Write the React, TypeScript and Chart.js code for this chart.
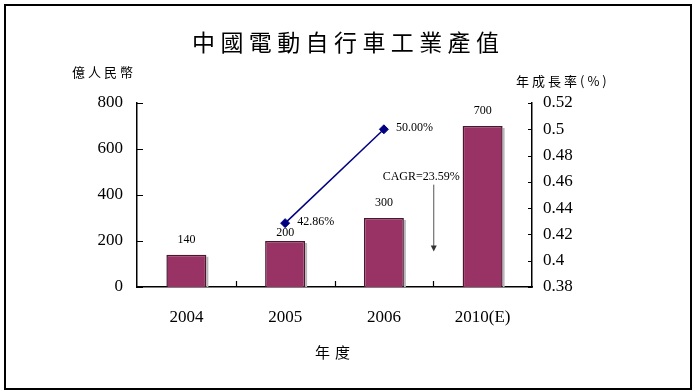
import React, { useEffect, useRef } from "react";
import { Chart, registerables } from "chart.js";

Chart.register(...registerables);

// ---- data ----
const categories = ["2004", "2005", "2006", "2010(E)"];
const outputValues = [140, 200, 300, 700]; // 億人民幣
const growthRates = [null, 0.4286, 0.5, null]; // 年成長率
const growthLabels = ["", "42.86%", "50.00%", ""];
const leftTickMin = 0;
const leftTickMax = 800;
const leftTickStep = 200;
const rightTickMin = 0.38;
const rightTickMax = 0.52;
const rightTickStep = 0.02;
const cagrText = "CAGR=23.59%";

const titleText = "中國電動自行車工業產值";
const leftAxisTitle = "億人民幣";
const rightAxisTitle = "年成長率(%)";
const xAxisTitle = "年度";

// ---- styling / annotation placement ----
const BAR_COLOR = "#993366";
const BAR_BORDER = "#4a1630";
const LINE_COLOR = "#000080";
const SERIF = '"Liberation Serif", "Times New Roman", serif';
const CJK = '"Noto Sans CJK TC", "Noto Sans CJK SC", sans-serif';
const barLabelGaps = [15, 8, 15, 15];
const cagrArrowIndex = 2.5; // between 2006 and 2010(E)
const cagrArrowTop = 445; // on left scale
const cagrArrowBottom = 154;
const cagrTextLevel = 477;

const overlayPlugin = {
  id: "overlay",
  beforeDatasetsDraw(chart: any) {
    const ctx = chart.ctx;
    const meta = chart.getDatasetMeta(0);
    ctx.save();
    ctx.fillStyle = "#b8b8b8";
    meta.data.forEach((el: any) => {
      const p = el.getProps(["x", "y", "base", "width"], true);
      const right = p.x + p.width / 2;
      ctx.fillRect(right, p.y + 2, 2, p.base - p.y - 2);
    });
    ctx.restore();
  },
  afterDatasetsDraw(chart: any) {
    const ctx = chart.ctx;
    const xs = chart.scales.x;
    const ys = chart.scales.y;
    const y1 = chart.scales.y1;
    const area = chart.chartArea;
    ctx.save();
    ctx.fillStyle = "#000";
    ctx.font = `12px ${SERIF}`;
    ctx.textBaseline = "middle";
    // bar value labels
    ctx.textAlign = "center";
    const bmeta = chart.getDatasetMeta(0);
    bmeta.data.forEach((el: any, i: number) => {
      const p = el.getProps(["x", "y"], true);
      ctx.fillText(String(outputValues[i]), p.x, p.y - barLabelGaps[i]);
    });
    // line labels
    ctx.textAlign = "left";
    const lmeta = chart.getDatasetMeta(1);
    lmeta.data.forEach((el: any, i: number) => {
      if (growthRates[i] == null) return;
      const p = el.getProps(["x", "y"], true);
      ctx.fillText(growthLabels[i], p.x + 12, p.y - 1);
    });
    // CAGR annotation
    const ax = xs.getPixelForValue(cagrArrowIndex);
    const aTop = ys.getPixelForValue(cagrArrowTop);
    const aBot = ys.getPixelForValue(cagrArrowBottom);
    ctx.textAlign = "center";
    ctx.fillText(cagrText, ax - 12, ys.getPixelForValue(cagrTextLevel));
    ctx.strokeStyle = "#555";
    ctx.lineWidth = 1;
    ctx.beginPath();
    ctx.moveTo(ax + 0.5, aTop);
    ctx.lineTo(ax + 0.5, aBot - 4);
    ctx.stroke();
    ctx.fillStyle = "#333";
    ctx.beginPath();
    ctx.moveTo(ax + 0.5, aBot);
    ctx.lineTo(ax - 2.5, aBot - 6);
    ctx.lineTo(ax + 3.5, aBot - 6);
    ctx.closePath();
    ctx.fill();

    // inward tick marks
    ctx.strokeStyle = "#000";
    ctx.lineWidth = 1.2;
    ctx.beginPath();
    ys.ticks.forEach((t: any) => {
      const py = Math.round(ys.getPixelForValue(t.value)) + 0.5;
      ctx.moveTo(area.left, py);
      ctx.lineTo(area.left + 6, py);
    });
    y1.ticks.forEach((t: any) => {
      const py = Math.round(y1.getPixelForValue(t.value)) + 0.5;
      ctx.moveTo(area.right, py);
      ctx.lineTo(area.right - 4, py);
    });
    for (let i = 0; i < categories.length - 1; i++) {
      const px = Math.round(xs.getPixelForValue(i + 0.5)) + 0.5;
      ctx.moveTo(px, area.bottom);
      ctx.lineTo(px, area.bottom - 6);
    }
    ctx.stroke();
    ctx.restore();
  },
};

function fmtRight(v: any) {
  return String(Number(Number(v).toFixed(2)));
}

export default function App() {
  const ref = useRef<HTMLCanvasElement | null>(null);

  useEffect(() => {
    document.body.style.margin = "0";
    if (!ref.current) return;
    const chart = new Chart(ref.current, {
      type: "bar",
      data: {
        labels: categories,
        datasets: [
          {
            type: "bar",
            data: outputValues,
            backgroundColor: BAR_COLOR,
            borderColor: BAR_BORDER,
            borderWidth: 1.5,
            barPercentage: 0.405,
            categoryPercentage: 1,
            yAxisID: "y",
            order: 2,
          },
          {
            type: "line",
            data: growthRates as any,
            yAxisID: "y1",
            borderColor: LINE_COLOR,
            backgroundColor: LINE_COLOR,
            borderWidth: 1.5,
            pointStyle: "rectRot",
            pointRadius: 4.5,
            pointBorderWidth: 1,
            pointBorderColor: LINE_COLOR,
            spanGaps: false,
            order: 1,
          },
        ],
      },
      options: {
        animation: false,
        responsive: false,
        layout: { padding: { top: 103, left: 0, right: 0, bottom: 0 } },
        plugins: {
          legend: { display: false },
          tooltip: { enabled: false },
          title: { display: false },
        },
        scales: {
          x: {
            offset: true,
            grid: { display: false, drawTicks: false },
            border: { display: true, color: "#000", width: 1.5 },
            ticks: {
              color: "#000",
              font: { family: SERIF, size: 17 },
              padding: 20,
              maxRotation: 0,
              autoSkip: false,
            },
            afterFit: (s: any) => {
              s.height = 105;
            },
          },
          y: {
            position: "left",
            min: leftTickMin,
            max: leftTickMax,
            grid: { display: false, drawTicks: false },
            border: { display: true, color: "#000", width: 1.5 },
            ticks: {
              stepSize: leftTickStep,
              color: "#000",
              font: { family: SERIF, size: 17 },
              padding: 14,
            },
            afterFit: (s: any) => {
              s.width = 137;
            },
          },
          y1: {
            position: "right",
            min: rightTickMin,
            max: rightTickMax,
            grid: { display: false, drawTicks: false },
            border: { display: true, color: "#000", width: 1.5 },
            ticks: {
              stepSize: rightTickStep,
              color: "#000",
              font: { family: SERIF, size: 17 },
              padding: 11,
              callback: fmtRight,
            },
            afterFit: (s: any) => {
              s.width = 163;
            },
          },
        },
      },
      plugins: [overlayPlugin],
    } as any);
    return () => chart.destroy();
  }, []);

  const txt = (extra: any): any => ({
    position: "absolute",
    fontFamily: CJK,
    color: "#000",
    lineHeight: 1,
    whiteSpace: "nowrap",
    ...extra,
  });

  return (
    <div style={{ position: "relative", width: 695, height: 392, overflow: "hidden", background: "#fff" }}>
      <canvas ref={ref} width={695} height={392} style={{ display: "block", width: 695, height: 392 }} />
      <div
        style={{
          position: "absolute",
          left: 4,
          top: 4,
          width: 688,
          height: 386,
          border: "2px solid #000",
          boxSizing: "border-box",
          pointerEvents: "none",
        }}
      />
      <div style={txt({ left: 192, top: 30, fontSize: 23, letterSpacing: "5.4px" })}>{titleText}</div>
      <div style={txt({ left: 72, top: 65, fontSize: 13, letterSpacing: "3px" })}>{leftAxisTitle}</div>
      <div style={txt({ left: 516, top: 74, fontSize: 13, letterSpacing: "3px" })}>{rightAxisTitle}</div>
      <div style={txt({ left: 315, top: 344, fontSize: 15, letterSpacing: "5px" })}>{xAxisTitle}</div>
    </div>
  );
}
